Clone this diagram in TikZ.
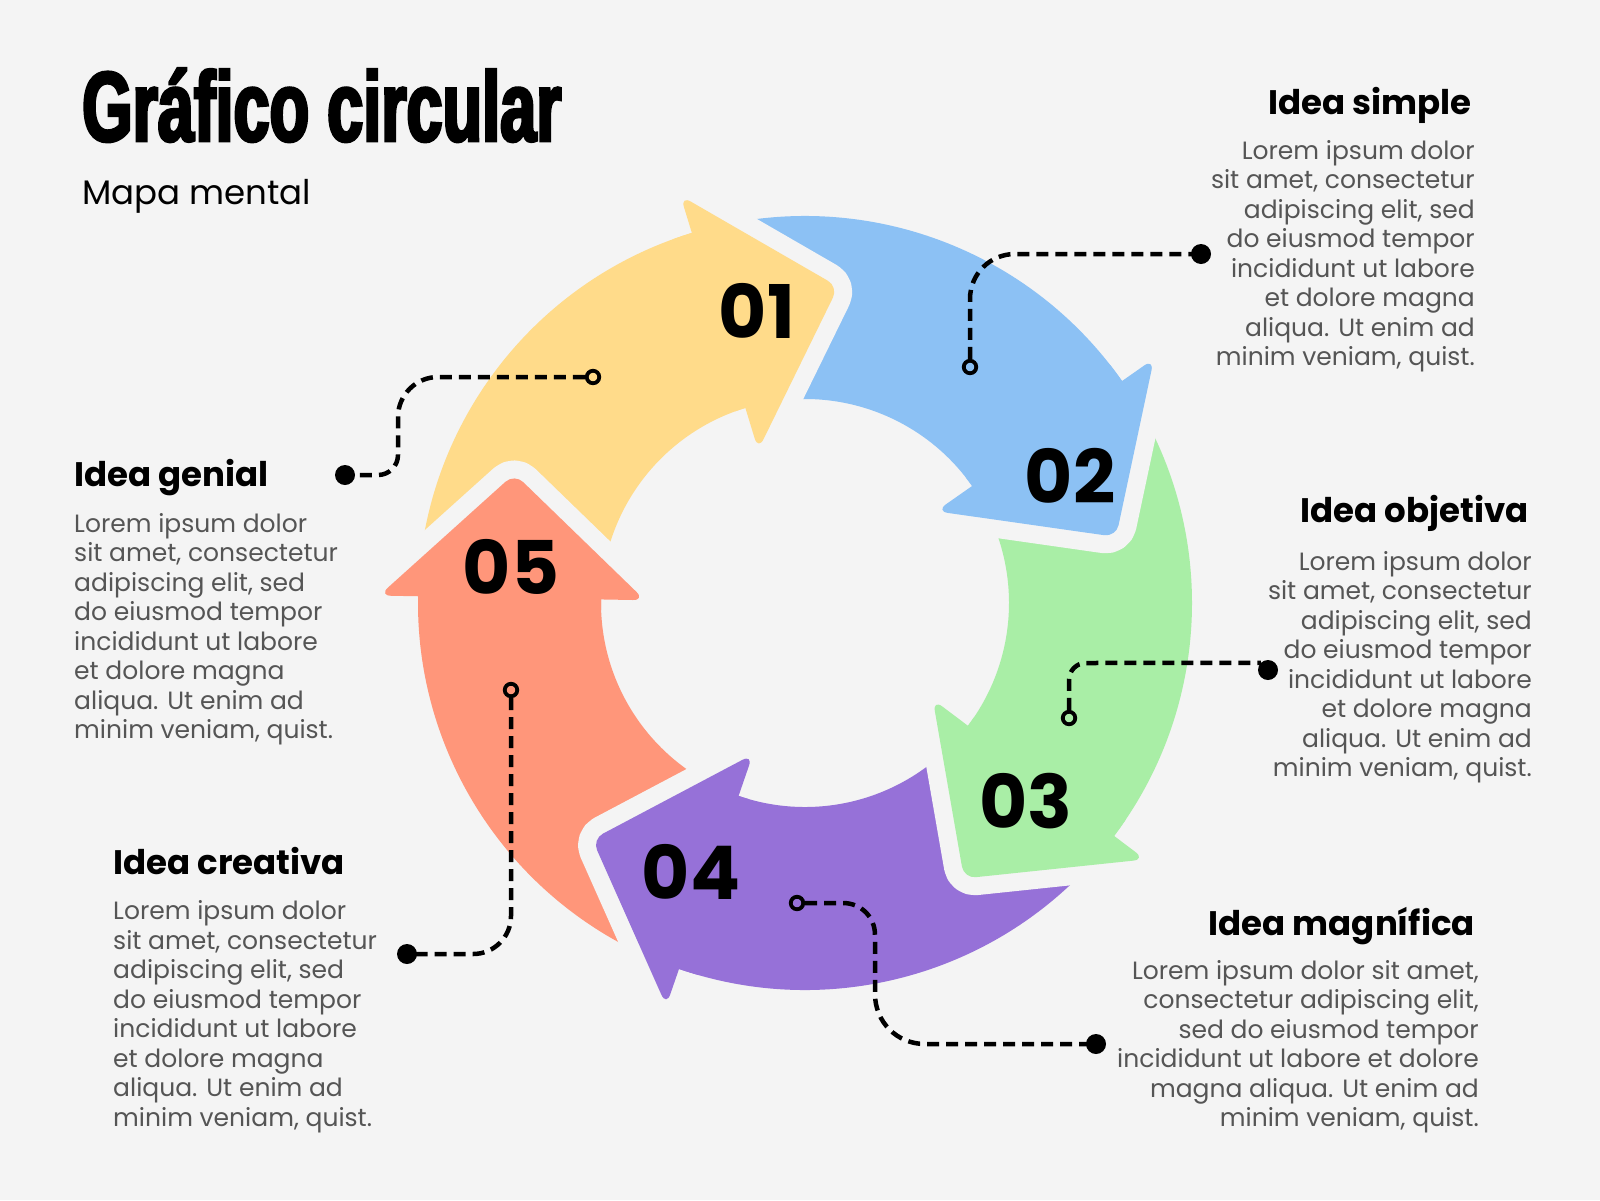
\documentclass[tikz,border=0pt]{standalone}
\usepackage{fontspec}
\setmainfont{Poppins}
\newfontfamily\titlefont{Liberation Sans}[FakeStretch=0.655,FakeBold=3]
\definecolor{bgc}{HTML}{F4F4F4}
\definecolor{txtgray}{HTML}{555555}
\definecolor{cyel}{HTML}{FFDB8A}
\definecolor{cblu}{HTML}{8CC1F4}
\definecolor{cgrn}{HTML}{A9EEA6}
\definecolor{cpur}{HTML}{9671D8}
\definecolor{cred}{HTML}{FF967A}
\tikzset{
  bodytxt/.style={font=\fontsize{25}{29}\selectfont, text=txtgray, inner sep=0pt},
  headtxt/.style={font=\bfseries\fontsize{34}{40}\selectfont, text=black, inner sep=0pt},
  numtxt/.style={font=\bfseries\fontsize{74}{80}\selectfont, text=black, inner sep=0pt},
  dashline/.style={draw=black, line width=4.5pt, dash pattern=on 12pt off 7pt},
  opendot/.style={circle, draw=black, line width=3.8pt, minimum size=12.5pt, inner sep=0pt},
  fulldot/.style={circle, fill=black, minimum size=20pt, inner sep=0pt},
  gapstroke/.style={draw=bgc, line width=36pt, line cap=round, line join=round, rounded corners=12pt},
}
\newcommand\bodylines[5]{%
  \foreach \t [count=\i from 0] in {#5}{%
    \node[bodytxt,anchor=#4] (#1\i) at ({#2},{#3+29.5*\i}) {\t};
  }%
}
\newcommand\ringband[2]{% #1 colour, #2 head base angle
  \fill[#1] ({#2-72}:387) arc[start angle={#2-72}, end angle={#2+2}, radius=387]
     -- ({#2+2}:204) arc[start angle={#2+2}, end angle={#2-72}, radius=204] -- cycle;
}
\newcommand\ringhead[2]{%
  \draw[gapstroke] (#2:426) -- ({#2+23}:318) -- (#2:160);
  \fill[#1] ({#2-3}:387) arc[start angle={#2-3}, end angle={#2+3}, radius=387]
     -- ({#2+3}:204) arc[start angle={#2+3}, end angle={#2-3}, radius=204] -- cycle;
  \fill[#1, rounded corners=12pt] (#2:426) -- ({#2+23}:318) -- (#2:160) -- cycle;
}
\begin{document}
\begin{tikzpicture}[x=1pt,y=-1pt]
\fill[bgc] (0,0) rectangle (1600,1200);
\useasboundingbox (0,0) rectangle (1600,1200);

% title
\node[anchor=base west, inner sep=0pt, font=\titlefont\bfseries\fontsize{99}{100}\selectfont] (title) at (82,141) {Gráfico circular};
\node[anchor=base west, inner sep=0pt, font=\fontsize{34}{40}\selectfont] (subtitle) at (82,204) {Mapa mental};

% ring of arrows
\begin{scope}[shift={(805,603)}]
  \ringband{cred}{181}
  \ringband{cyel}{253}
  \ringband{cblu}{325}
  \ringband{cgrn}{397}
  \ringband{cpur}{469}
  \ringhead{cred}{181}
  \ringhead{cyel}{253}
  \ringhead{cblu}{325}
  \ringhead{cgrn}{397}
  \ringhead{cpur}{469}
\end{scope}

% numbers
\node[numtxt] (n1) at (757,311) {01};
\node[numtxt] (n2) at (1070,476) {02};
\node[numtxt] (n3) at (1026,801) {03};
\node[numtxt] (n4) at (691,872) {04};
\node[numtxt] (n5) at (511,567) {05};

% connector end points
\node[opendot] (o1) at (593,377) {};
\node[opendot] (o2) at (970,367) {};
\node[opendot] (o3) at (1069,718) {};
\node[opendot] (o4) at (797,903) {};
\node[opendot] (o5) at (511,690) {};
\node[fulldot] (d1) at (345,475) {};
\node[fulldot] (d2) at (1201,254) {};
\node[fulldot] (d3) at (1268,670) {};
\node[fulldot] (d4) at (1096,1044) {};
\node[fulldot] (d5) at (407,954) {};

% connectors
\draw[dashline] (o1.west) -- (438,377) .. controls (416,377) and (398,395) .. (398,417)
   -- (398,455) .. controls (398,466) and (389,475) .. (378,475) -- (d1.center);
\draw[dashline] (o2.north) -- (970,299) .. controls (970,274) and (990,254) .. (1015,254) -- (d2.center);
\draw[dashline] (o3.north) -- (1069,680) .. controls (1069,671) and (1076,663) .. (1086,663) -- (d3.north west);
\draw[dashline] (o4.east) -- (843,903) .. controls (861,903) and (875,917) .. (875,935)
   -- (875,994) .. controls (875,1022) and (897,1044) .. (925,1044) -- (d4.center);
\draw[dashline] (o5.south) -- (511,916) .. controls (511,937) and (494,954) .. (473,954) -- (d5.center);

% headings
\node[headtxt, anchor=base east] (h1) at (1472,114) {Idea simple};
\node[headtxt, anchor=base east] (h2) at (1529,522) {Idea objetiva};
\node[headtxt, anchor=base east] (h3) at (1475,935) {Idea magnífica};
\node[headtxt, anchor=base west] (h5) at (74,486) {Idea genial};
\node[headtxt, anchor=base west] (h4) at (113,874) {Idea creativa};

% body texts
\bodylines{simple}{1475}{159}{base east}{{Lorem ipsum dolor},{sit amet, consectetur},{adipiscing elit, sed},{do eiusmod tempor},{incididunt ut labore},{et dolore magna},{aliqua. Ut enim ad},{minim veniam, quist.}}
\bodylines{objetiva}{1532}{570}{base east}{{Lorem ipsum dolor},{sit amet, consectetur},{adipiscing elit, sed},{do eiusmod tempor},{incididunt ut labore},{et dolore magna},{aliqua. Ut enim ad},{minim veniam, quist.}}
\bodylines{magnifica}{1479}{979}{base east}{{Lorem ipsum dolor sit amet,},{consectetur adipiscing elit,},{sed do eiusmod tempor},{incididunt ut labore et dolore},{magna aliqua. Ut enim ad},{minim veniam, quist.}}
\bodylines{genial}{74}{532}{base west}{{Lorem ipsum dolor},{sit amet, consectetur},{adipiscing elit, sed},{do eiusmod tempor},{incididunt ut labore},{et dolore magna},{aliqua. Ut enim ad},{minim veniam, quist.}}
\bodylines{creativa}{113}{919.5}{base west}{{Lorem ipsum dolor},{sit amet, consectetur},{adipiscing elit, sed},{do eiusmod tempor},{incididunt ut labore},{et dolore magna},{aliqua. Ut enim ad},{minim veniam, quist.}}
\end{tikzpicture}
\end{document}
